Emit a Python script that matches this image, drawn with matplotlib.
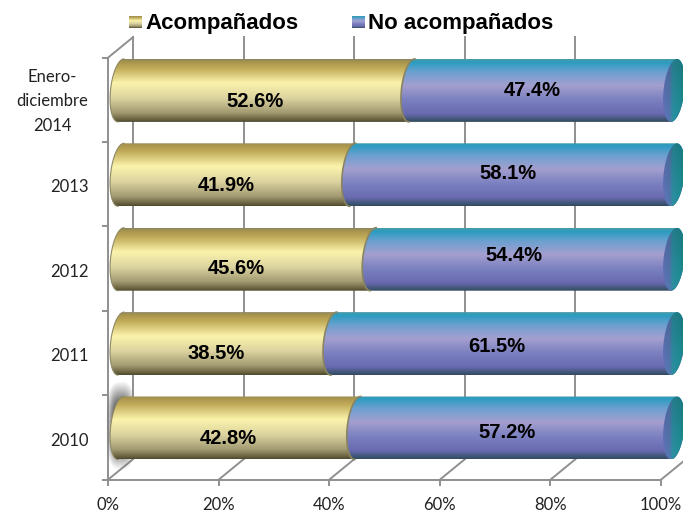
import numpy as np
import matplotlib
matplotlib.use('Agg')
import matplotlib.pyplot as plt
from matplotlib.colors import to_rgb
from matplotlib.path import Path
from matplotlib.patches import PathPatch

#data, bottom bar first
years = ['2010', '2011', '2012', '2013', 'Enero-\ndiciembre\n2014']
acompanados = [42.8, 38.5, 45.6, 41.9, 52.6]
no_acompanados = [57.2, 61.5, 54.4, 58.1, 47.4]
xticks = [0, 20, 40, 60, 80, 100]

W, H = 683, 514
#pixels of the bar plane
PX0, PX_PCT = 121, 5.53
PY0, PY_CAT = 428, 84.4

yellow_stops = [(0, '#8c8660'), (0.04, '#a8934c'), (0.14, '#c0aa58'), (0.38, '#fbf3ab'),
                (0.62, '#dcd3a0'), (0.85, '#a39b72'), (0.96, '#6b6340'), (1, '#4e4a30')]
blue_stops = [(0, '#4a9aa8'), (0.05, '#2a9cc0'), (0.2, '#6aa0d0'), (0.42, '#a49fcf'),
              (0.65, '#7a80c0'), (0.87, '#6a6ab0'), (0.97, '#3c5472'), (1, '#344a60')]

def px(n):
    return n / PX_PCT

def py(n):
    return n / PY_CAT

def gradient(stops, n=128):
    pos = [s[0] for s in stops]
    cols = np.array([to_rgb(s[1]) for s in stops])
    t = np.linspace(0, 1, n)
    return np.stack([np.interp(t, pos, cols[:, k]) for k in range(3)], axis=1)

def arc(c, yc, t0, t1, rx=10.5, shear=3.0, ry=31.5):
    t = np.linspace(t0, t1, 40)
    return np.column_stack([c + px(rx) * np.cos(t) + px(shear) * np.sin(t), yc + py(ry) * np.sin(t)])

def draw_image(ax, img, extent, path, z):
    im = ax.imshow(img, extent=extent, aspect='auto', zorder=z, origin='upper', interpolation='bilinear')
    im.set_clip_path(PathPatch(path, transform=ax.transData))

fig = plt.figure(figsize=(W / 100, H / 100), dpi=100)
ax = fig.add_axes([0, 0, 1, 1])
ax.axis('off')
xlim = (-px(PX0), px(W - PX0))
ylim = (-py(H - PY0), py(PY0))

#walls of the 3d box
GRID = '#8f8f8f'
fx, bx = px(-13), px(12)
fy, by = py(-9.5), py(11)
bot, top = -0.5, 4.5
ax.plot([fx, fx], [bot + fy, top + fy], color=GRID, lw=1.4, zorder=1)
for p in xticks:
    ax.plot([p + fx, p + bx], [bot + fy, bot + by], color=GRID, lw=1.4, zorder=1)
    ax.plot([p + bx, p + bx], [bot + by, top + by], color=GRID, lw=1.4, zorder=1)
    ax.plot([p + fx, p + fx], [bot + fy, bot + fy - py(5)], color=GRID, lw=1.4, zorder=1)
    ax.text(p + fx, bot + fy - py(25), '%d%%' % p, ha='center', va='center', fontsize=12,
            family='Lato', color='#222222')
ax.plot([fx, bx], [top + fy, top + by], color=GRID, lw=1.4, zorder=1)
ax.plot([fx, 100 + fx], [bot + fy, bot + fy], color=GRID, lw=1.4, zorder=1)
for k in range(len(years) + 1):
    ax.plot([fx - px(5), fx], [bot + k + fy, bot + k + fy], color=GRID, lw=1.4, zorder=1)

#soft shadow behind the left end of the 2010 bar
xx, yy = np.meshgrid(np.linspace(-1, 1, 80), np.linspace(-1, 1, 160))
dist = (np.abs(xx) ** 3 + np.abs(yy) ** 3) ** (1 / 3)
rgba = np.zeros(dist.shape + (4,))
rgba[..., :3] = 0.42
rgba[..., 3] = np.clip((1 - dist) / 0.45, 0, 1) * 0.95
ax.imshow(rgba, extent=(px(-15), px(15), -py(42), py(46)), aspect='auto', zorder=2)

yellow_img = gradient(yellow_stops)[:, None, :]
blue_img = gradient(blue_stops)[:, None, :]
cap_cols = gradient([(0, '#5f6fb4'), (0.3, '#4f72a8'), (0.45, '#2a8a9a'), (1, '#17868c')])
cap_img = cap_cols[None, :, :] * np.linspace(0.9, 1.05, 64)[:, None, None]
cap_img = np.clip(cap_img, 0, 1)

h = py(31.5)
for i, (a, b) in enumerate(zip(acompanados, no_acompanados)):
    z = 3 + i
    #yellow part
    left = arc(0, i, np.pi / 2, 3 * np.pi / 2)
    right = arc(a, i, -np.pi / 2, np.pi / 2, rx=0)
    verts = np.vstack([left, right, left[:1]])
    path = Path(verts)
    draw_image(ax, yellow_img, (px(-12), a + px(5), i - h, i + h), path, z)
    ax.plot(left[:, 0], left[:, 1], color='#8f8a66', lw=0.8, zorder=z)
    #blue part, its rounded end covers the yellow one
    left2 = arc(a, i, np.pi / 2, 3 * np.pi / 2)
    right2 = arc(100, i, -np.pi / 2, np.pi / 2)
    path2 = Path(np.vstack([left2, right2, left2[:1]]))
    draw_image(ax, blue_img, (a - px(12), 100 + px(12), i - h, i + h), path2, z + 0.1)
    ax.plot(left2[:, 0], left2[:, 1], color='#8a8560', lw=1.2, zorder=z + 0.2)
    #cap at the right end
    cap = Path(arc(100, i, 0, 2 * np.pi))
    draw_image(ax, cap_img, (100 - px(11), 100 + px(11), i - h, i + h), cap, z + 0.2)

#text
label_dy = [9, 8, 8, 9, 10]
blue_dx = [-9, -7, -10, -5, -11]
blue_dy = [2, 1, -6, -3, -1.5]
for i, (a, b) in enumerate(zip(acompanados, no_acompanados)):
    ax.text(a / 2 + fx + px(2), i - py(label_dy[i] + 1.5), '%.1f%%' % a, ha='center', va='center',
            fontsize=14.5, fontweight='bold', family='Liberation Sans', color='black', zorder=20)
    ax.text(a + b / 2 + px(blue_dx[i]), i - py(blue_dy[i] + 2), '%.1f%%' % b, ha='center', va='center',
            fontsize=14.5, fontweight='bold', family='Liberation Sans', color='black', zorder=20)

for i, name in enumerate(years):
    if '\n' in name:
        ax.text(fx - px(56), i - py(11), name, ha='center', va='center', fontsize=12,
                family='Lato', color='#222222', linespacing=1.65)
    else:
        ax.text(fx - px(19), i - py(12.5), name, ha='right', va='center', fontsize=12,
                family='Lato', color='#222222')

#legend, drawn by hand because of the gradient keys
key_y = py(PY0 - 22)
for x0, stops, name in [(px(129 - PX0), yellow_stops, 'Acompañados'), (px(352 - PX0), blue_stops, 'No acompañados')]:
    ax.imshow(gradient(stops)[:, None, :], extent=(x0, x0 + px(12.5), key_y - py(6), key_y + py(6)),
              aspect='auto', zorder=5)
    ax.text(x0 + px(16.5), key_y - py(1.5), name, ha='left', va='center', fontsize=16, fontweight='bold',
            family='Liberation Sans', color='black')

ax.set_xlim(xlim)
ax.set_ylim(ylim)
fig.savefig('out.png', dpi=100, facecolor='white')
